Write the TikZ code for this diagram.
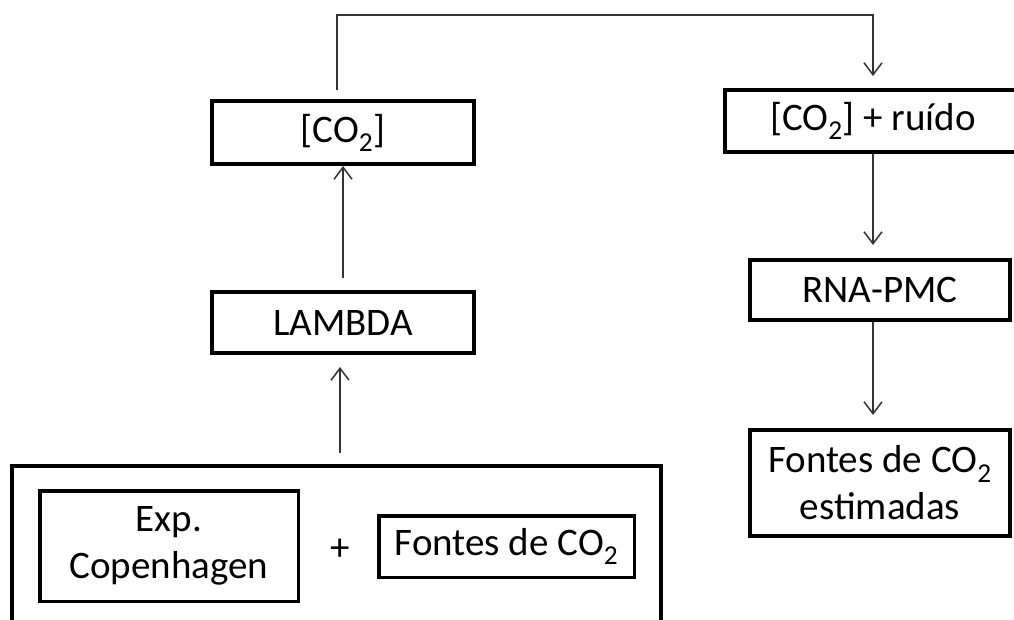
\documentclass[tikz,border=0pt]{standalone}
\usepackage{fontspec}
\setmainfont{Carlito}
\usetikzlibrary{arrows.meta}
\tikzset{
  box/.style={draw=black, line width=4pt, rectangle, inner sep=0pt, align=center,
    font=\fontsize{39}{47}\selectfont},
  innerbox/.style={box, line width=3.5pt},
  conn/.style={draw=black!80, line width=1.5pt,
    -{Straight Barb[length=12pt,width=18pt,line width=1.5pt]}},
}
\begin{document}
\begin{tikzpicture}[x=1pt,y=-1pt]
\clip (0,0) rectangle (1014,620);
\fill[white] (0,0) rectangle (1014,620);
% left column
\node[box, minimum width=262pt, minimum height=63pt] (co2) at (343,132.5) {[CO\textsubscript{2}]};
\node[box, minimum width=262pt, minimum height=61pt] (lambda) at (343,322.5) {LAMBDA};
\node[box, minimum width=649pt, minimum height=182pt] (big) at (336.5,557) {};
\node[innerbox, minimum width=258.5pt, minimum height=110.5pt] (exp) at (169,546) {Exp.\\Copenhagen};
\node[font=\fontsize{39}{47}\selectfont] (plus) at (340,550) {+};
\node[innerbox, minimum width=255.5pt, minimum height=61.5pt] (fontes) at (506.5,546.5) {Fontes de CO\textsubscript{2}};
% right column
\node[box, minimum width=296pt, minimum height=62pt] (ruido) at (873,121) {[CO\textsubscript{2}] + ruído};
\node[box, minimum width=260pt, minimum height=60pt] (rna) at (880,290) {RNA-PMC};
\node[box, minimum width=260pt, minimum height=106pt] (est) at (880,483) {Fontes de CO\textsubscript{2}\\estimadas};
% connectors
\coordinate (top) at (337,15);
\draw[conn, shorten >=12pt] ([xshift=-6pt, yshift=9pt]co2.north) |- (top) -| (ruido.north);
\draw[conn, shorten <=12pt] (lambda.north) -- (co2.south);
\draw[conn, shorten <=11pt, shorten >=12pt] ([xshift=3.5pt]big.north) -- ([xshift=-3pt]lambda.south);
\draw[conn, shorten >=13pt] (ruido.south) -- (ruido.south |- rna.north);
\draw[conn, shorten >=13pt] ([xshift=-7pt]rna.south) -- ([xshift=-7pt]est.north);
\end{tikzpicture}
\end{document}
